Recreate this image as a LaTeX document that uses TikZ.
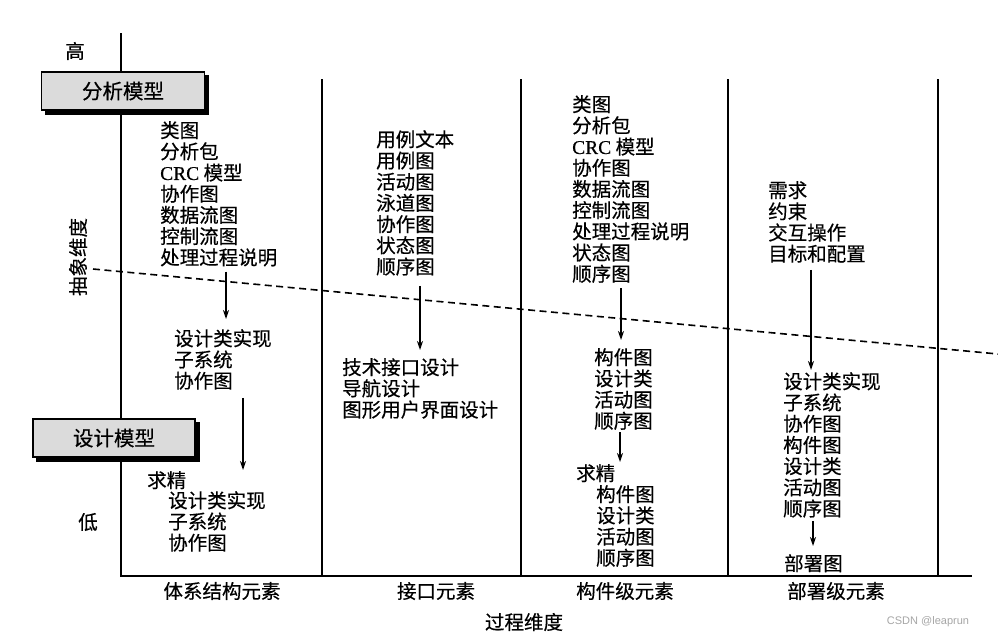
\documentclass[tikz,border=0pt]{standalone}
\usepackage{fontspec}
\setmainfont{Noto Sans CJK SC}[FakeBold=0.4]
\newfontfamily\latinserif{Liberation Serif}[FakeBold=0.4]
\newfontfamily\wmfont{Liberation Sans}
\usetikzlibrary{arrows.meta,shadows}
\begin{document}
\begin{tikzpicture}[x=1pt,y=-1pt,
  txt/.style={anchor=north west,align=left,inner sep=0pt,font=\fontsize{19.5}{21.2}\selectfont},
  lbl/.style={inner sep=0pt,font=\fontsize{19.5}{21.2}\selectfont},
  axis/.style={line width=1.5pt},
  arr/.style={line width=1.3pt,-{Stealth[length=9pt,width=6pt]}},
  modelbox/.style={draw=black,line width=1.6pt,fill=gray!28,minimum height=38pt,inner sep=0pt,
     font=\fontsize{20.5}{22}\selectfont,
     copy shadow={shadow xshift=4pt,shadow yshift=-4pt,fill=black,draw=black}}]
\useasboundingbox (0,0) rectangle (998,641);
\fill[white] (0,0) rectangle (998,641);

% axes and column lines
\coordinate (O) at (121,576);
\coordinate (top) at (121,33);
\coordinate (xend) at (972,576);
\draw[axis] (top) -- (O) -- (xend);
\foreach \x in {322,521,728,938}{
  \draw[axis] (\x,79) -- (\x,576);
}
% dashed abstraction boundary
\coordinate (d1) at (93,269);
\coordinate (d2) at (998,354);
\draw[line width=1.6pt,dash pattern=on 7pt off 4.5pt] (d1) -- (d2);

% model boxes
\node[modelbox,minimum width=163pt] (am) at (123,91) {分析模型};
\node[modelbox,minimum width=162pt] (dm) at (114,438) {设计模型};

% axis labels
\node[lbl] (hi) at (75,51) {高};
\node[lbl] (lo) at (88,522) {低};
\node[lbl,rotate=90] (abs) at (78,257) {抽象维度};
\node[lbl] (proc) at (524,622) {过程维度};
\node[lbl] (b1) at (222,591) {体系结构元素};
\node[lbl] (b2) at (436,591) {接口元素};
\node[lbl] (b3) at (625,591) {构件级元素};
\node[lbl] (b4) at (836,591) {部署级元素};

% column 1
\node[txt] (c1a) at (160,121) {类图\\分析包\\{\latinserif CRC} 模型\\协作图\\数据流图\\控制流图\\处理过程说明};
\node[txt] (c1b) at (174,329) {设计类实现\\子系统\\协作图};
\node[txt] (c1c) at (147,471) {求精};
\node[txt] (c1d) at (168,491) {设计类实现\\子系统\\协作图};
% column 2
\node[txt] (c2a) at (376,130) {用例文本\\用例图\\活动图\\泳道图\\协作图\\状态图\\顺序图};
\node[txt] (c2b) at (342,358) {技术接口设计\\导航设计\\图形用户界面设计};
% column 3
\node[txt] (c3a) at (572,95) {类图\\分析包\\{\latinserif CRC} 模型\\协作图\\数据流图\\控制流图\\处理过程说明\\状态图\\顺序图};
\node[txt] (c3b) at (594,348) {构件图\\设计类\\活动图\\顺序图};
\node[txt] (c3c) at (576,464) {求精};
\node[txt] (c3d) at (596,485) {构件图\\设计类\\活动图\\顺序图};
% column 4
\node[txt] (c4a) at (768,181) {需求\\约束\\交互操作\\目标和配置};
\node[txt] (c4b) at (783,372) {设计类实现\\子系统\\协作图\\构件图\\设计类\\活动图\\顺序图};
\node[txt] (c4c) at (784,554) {部署图};

% arrow x positions
\coordinate (x1) at (226,0);
\coordinate (x2) at (243,0);
\coordinate (x3) at (420,0);
\coordinate (x4) at (621,0);
\coordinate (x5) at (620,0);
\coordinate (x6) at (811,0);
\coordinate (x7) at (813,0);

\draw[arr,shorten <=5pt,shorten >=10pt] (c1a.south -| x1) -- (c1b.north -| x1);
\draw[arr,shorten <=8pt,shorten >=1pt] (c1b.south -| x2) -- (c1c.north -| x2);
\draw[arr,shorten <=10pt,shorten >=8pt] (c2a.south -| x3) -- (c2b.north -| x3);
\draw[arr,shorten <=5pt,shorten >=8pt] (c3a.south -| x4) -- (c3b.north -| x4);
\draw[arr,shorten <=2pt,shorten >=2pt] (c3b.south -| x5) -- (c3c.north -| x5);
\draw[arr,shorten <=7pt,shorten >=2pt] (c4a.south -| x6) -- (c4b.north -| x6);
\draw[arr,shorten <=3pt,shorten >=8pt] (c4b.south -| x7) -- (c4c.north -| x7);

% watermark
\node[inner sep=0pt,text=gray!70,font=\wmfont\fontsize{11}{13}\selectfont] (wm) at (928,622) {CSDN @leaprun};
\end{tikzpicture}
\end{document}
